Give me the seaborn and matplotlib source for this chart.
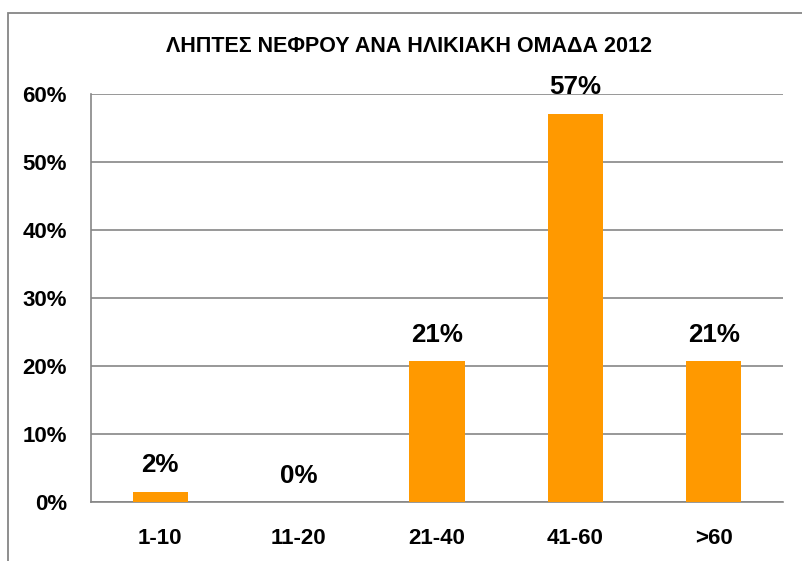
import matplotlib
matplotlib.use("Agg")
import matplotlib.pyplot as plt
import seaborn as sns
import pandas as pd
from matplotlib.patches import Rectangle

categories = ["1-10", "11-20", "21-40", "41-60", ">60"]
values = [0.015, 0.0, 0.207, 0.57, 0.207]
labels = ["2%", "0%", "21%", "57%", "21%"]
yticks = [0, 0.1, 0.2, 0.3, 0.4, 0.5, 0.6]
ytick_labels = ["0%", "10%", "20%", "30%", "40%", "50%", "60%"]
title = "ΛΗΠΤΕΣ ΝΕΦΡΟΥ ΑΝΑ ΗΛΙΚΙΑΚΗ ΟΜΑΔΑ 2012"

sns.set_theme(style="white")
plt.rcParams['font.family'] = ['Liberation Sans', 'DejaVu Sans']
plt.rcParams['font.weight'] = 'bold'

W, H = 803, 561
fig = plt.figure(figsize=(W / 100, H / 100), dpi=100)
ax = fig.add_axes([91 / W, 1 - 502 / H, (783 - 91) / W, (502 - 93.5) / H])

df = pd.DataFrame({"cat": categories, "val": values})
sns.barplot(data=df, x="cat", y="val", color="#FF9900", saturation=1,
            width=0.4, ax=ax, zorder=3, linewidth=0)

ax.set_ylim(0, 0.6)
ax.set_xlim(-0.5, 4.5)
ax.set_yticks(yticks)
ax.set_yticklabels(ytick_labels)
ax.set_xlabel("")
ax.set_ylabel("")
ax.yaxis.grid(True, color="#868686", linewidth=1.2, zorder=0)
ax.set_axisbelow(True)
for s in ["top", "right"]:
    ax.spines[s].set_visible(False)
for s in ["left", "bottom"]:
    ax.spines[s].set_color("#868686")
    ax.spines[s].set_linewidth(1.2)
ax.tick_params(axis="both", length=0, labelsize=16, colors="black")
ax.tick_params(axis="y", pad=17.3)
ax.tick_params(axis="x", pad=18.5)
for t in ax.get_xticklabels() + ax.get_yticklabels():
    t.set_fontweight("bold")

for i, (v, lab) in enumerate(zip(values, labels)):
    ax.annotate(lab, (i, v), xytext=(0, 14), textcoords="offset points",
                ha="center", va="baseline", fontsize=18.7, fontweight="bold",
                color="black")

fig.text(409 / W, 1 - 47 / H, title, ha="center", va="center",
         fontsize=15.5, fontweight="bold", color="black")

fig.patches.append(Rectangle((8 / W, -0.5), 2, 1.5 - 12.5 / H,
                             transform=fig.transFigure, fill=False,
                             edgecolor="#868686", linewidth=1.3))

fig.savefig("out.png", dpi=100)
